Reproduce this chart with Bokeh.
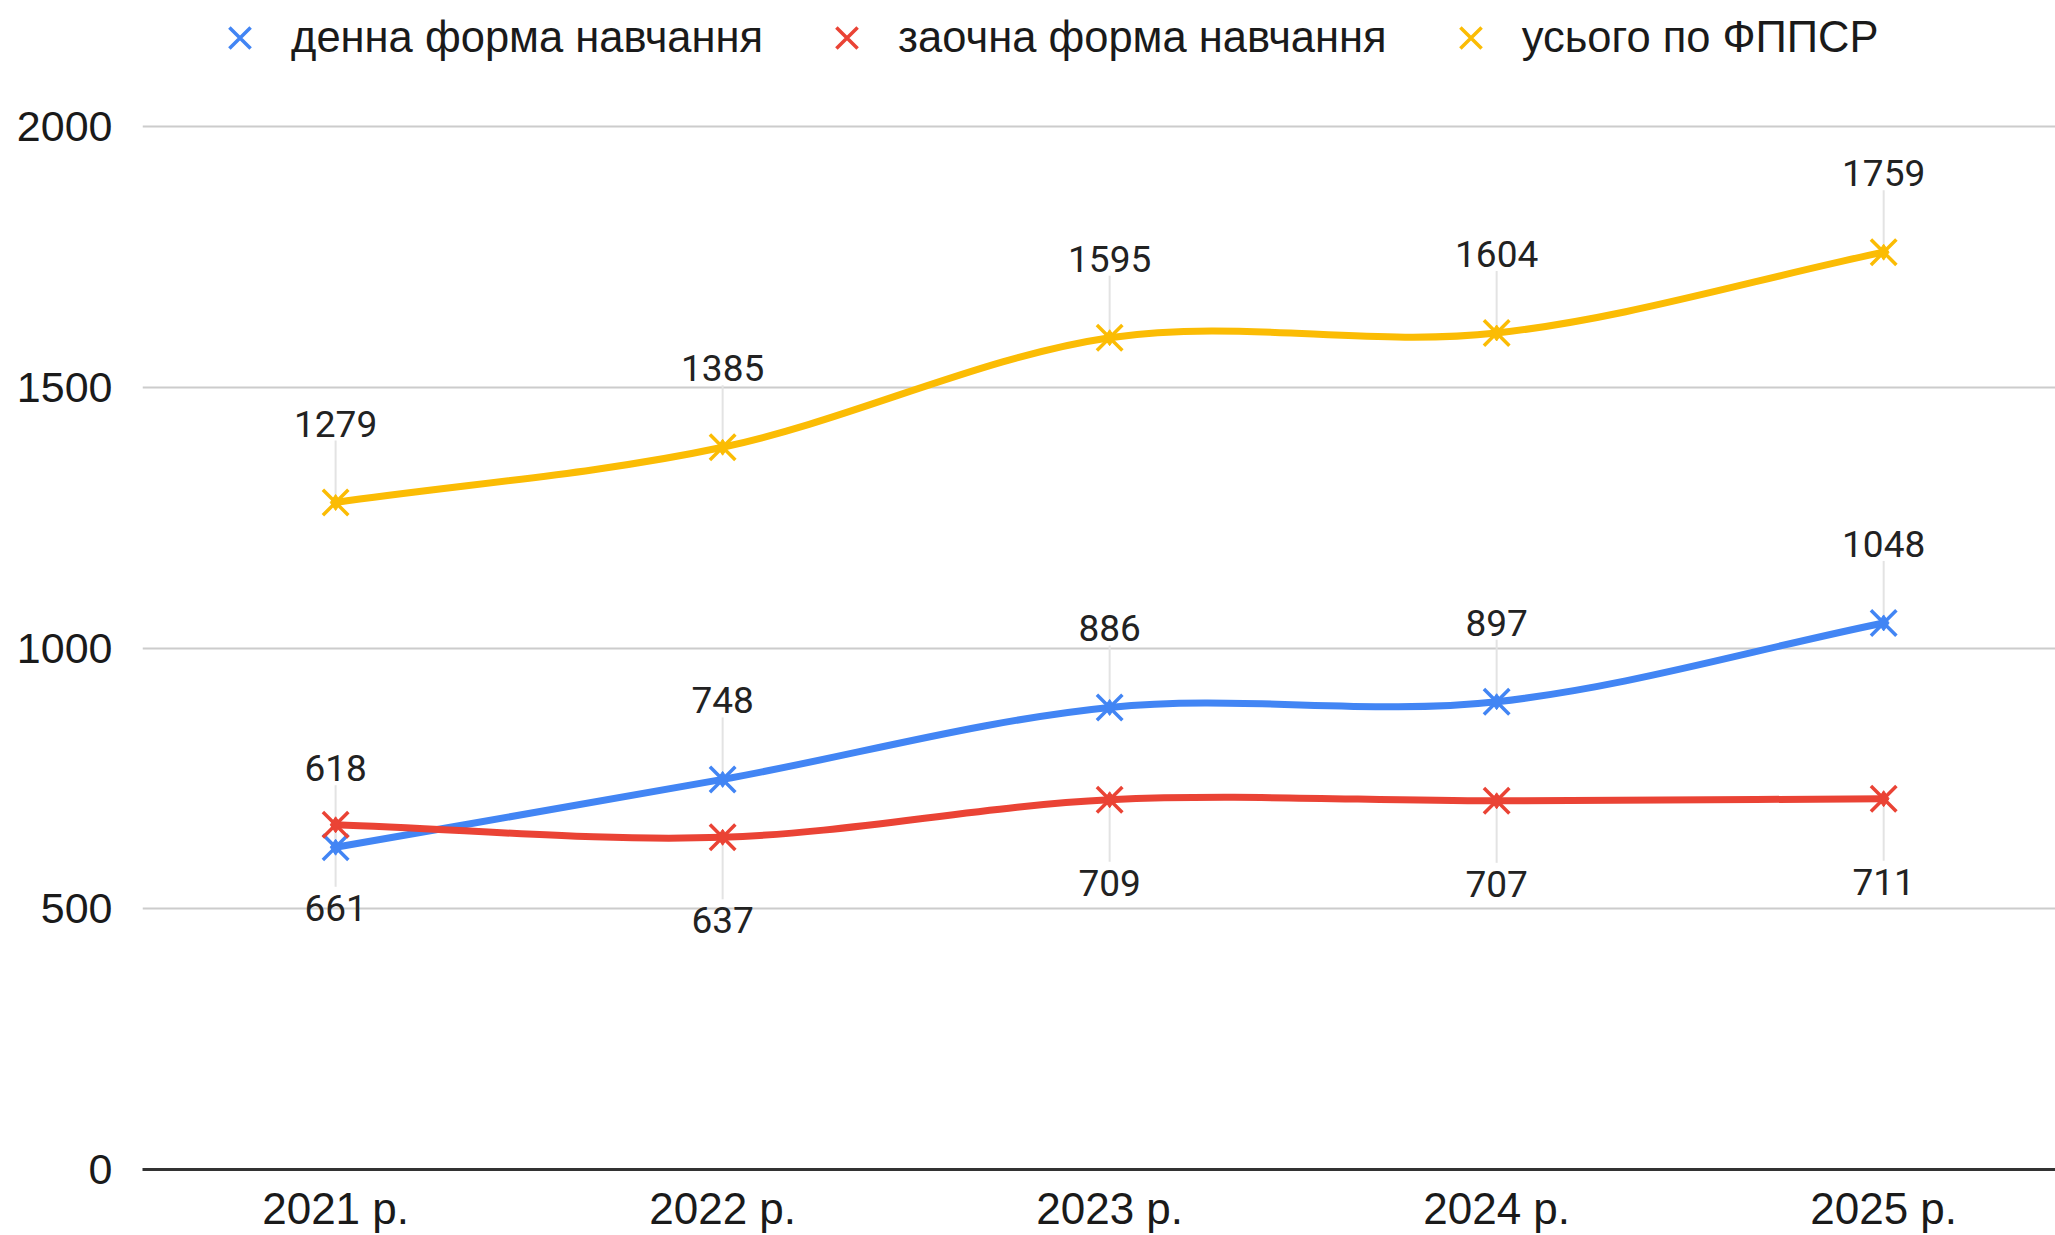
import math
from bokeh.plotting import figure
from bokeh.models import Range1d, FixedTicker, Legend, LegendItem
from bokeh.core.properties import value
from bokeh.embed import file_html
from bokeh.resources import INLINE

years = ["2021 р.", "2022 р.", "2023 р.", "2024 р.", "2025 р."]
day_form = [618, 748, 886, 897, 1048]
extramural = [661, 637, 709, 707, 711]
total = [1279, 1385, 1595, 1604, 1759]
names = ["денна форма навчання", "заочна форма навчання", "усього по ФППСР"]
colors = ["#4285F4", "#EA4335", "#FBBC04"]
label_side = [-1, 1, -1]  # -1 above, +1 below
y_ticks = [0, 500, 1000, 1500, 2000]

W, H = 2055, 1235
BORDER_BOTTOM = 66
TOP_GAP = 126          # pixels between canvas top and the 2000 gridline
frame_h = H - BORDER_BOTTOM
y_top = y_ticks[-1] * frame_h / (frame_h - TOP_GAP)

p = figure(width=W, height=H, output_backend="svg", toolbar_location=None,
           x_range=Range1d(-0.499, 4.444), y_range=Range1d(0, y_top),
           min_border_left=142, min_border_right=0, min_border_top=0,
           min_border_bottom=BORDER_BOTTOM)
p.outline_line_color = None
p.background_fill_color = "white"
p.border_fill_color = "white"

xs = list(range(len(years)))

# axes
p.xaxis.ticker = FixedTicker(ticks=xs)
p.xaxis.major_label_overrides = {i: years[i] for i in xs}
p.xaxis.axis_line_color = "#333333"
p.xaxis.axis_line_width = 3
p.xaxis.major_tick_line_color = None
p.xaxis.minor_tick_line_color = None
p.xaxis.major_label_text_font = "Liberation Sans"
p.xaxis.major_label_text_font_size = "44px"
p.xaxis.major_label_text_color = "#1a1a1a"
p.xaxis.major_label_standoff = 8

p.yaxis.ticker = FixedTicker(ticks=y_ticks)
p.yaxis.axis_line_color = None
p.yaxis.major_tick_line_color = None
p.yaxis.minor_tick_line_color = None
p.yaxis.major_label_text_font = "Liberation Sans"
p.yaxis.major_label_text_font_size = "43px"
p.yaxis.major_label_text_color = "#1a1a1a"
p.yaxis.major_label_standoff = 24

p.xgrid.grid_line_color = None
p.ygrid.ticker = FixedTicker(ticks=y_ticks)
p.ygrid.grid_line_color = "#cccccc"
p.ygrid.grid_line_width = 2

series = [day_form, extramural, total]


def bezier_parts(ys):
    n = len(ys)
    m = []
    for i in range(n):
        if i == 0:
            m.append(ys[1] - ys[0])
        elif i == n - 1:
            m.append(ys[-1] - ys[-2])
        else:
            m.append((ys[i + 1] - ys[i - 1]) / 2)
    x0, y0, x1, y1, cx0, cy0, cx1, cy1 = [], [], [], [], [], [], [], []
    for i in range(n - 1):
        x0.append(xs[i]); y0.append(ys[i])
        x1.append(xs[i + 1]); y1.append(ys[i + 1])
        cx0.append(xs[i] + 1 / 3); cy0.append(ys[i] + m[i] / 3)
        cx1.append(xs[i + 1] - 1 / 3); cy1.append(ys[i + 1] - m[i + 1] / 3)
    return dict(x0=x0, y0=y0, x1=x1, y1=y1, cx0=cx0, cy0=cy0, cx1=cx1, cy1=cy1)


# leader lines
for ys, side in zip(series, label_side):
    p.ray(x=xs, y=ys, length=62, length_units="screen",
          angle=(math.pi / 2 if side < 0 else -math.pi / 2),
          line_color="#e3e3e3", line_width=2)

items = []
for ys, col, name, side in zip(series, colors, names, label_side):
    b = bezier_parts(ys)
    p.bezier(line_color=col, line_width=7, **b)
    r1 = p.scatter(x=xs, y=ys, marker="x", size=36, line_color=col, line_width=3.5)
    r2 = p.scatter(x=xs, y=ys, marker="diamond", size=16, fill_color=col, line_color=col)
    items.append(LegendItem(label=name, renderers=[r1]))
    p.text(x=xs, y=ys, text=[str(v) for v in ys],
           y_offset=(-79 if side < 0 else 83),
           text_align="center", text_baseline="middle",
           text_font=value("Roboto"), text_font_size="37px", text_color="#222222")

legend = Legend(items=items, orientation="horizontal",
                location=(60, frame_h - 75),
                glyph_width=75, glyph_height=75, label_standoff=14, spacing=46,
                padding=0, margin=0, border_line_color=None,
                background_fill_alpha=0,
                label_text_font="Liberation Sans", label_text_font_size="43.5px",
                label_text_color="#1a1a1a")
p.add_layout(legend, "center")

open("out.html", "w").write(file_html(p, INLINE))
